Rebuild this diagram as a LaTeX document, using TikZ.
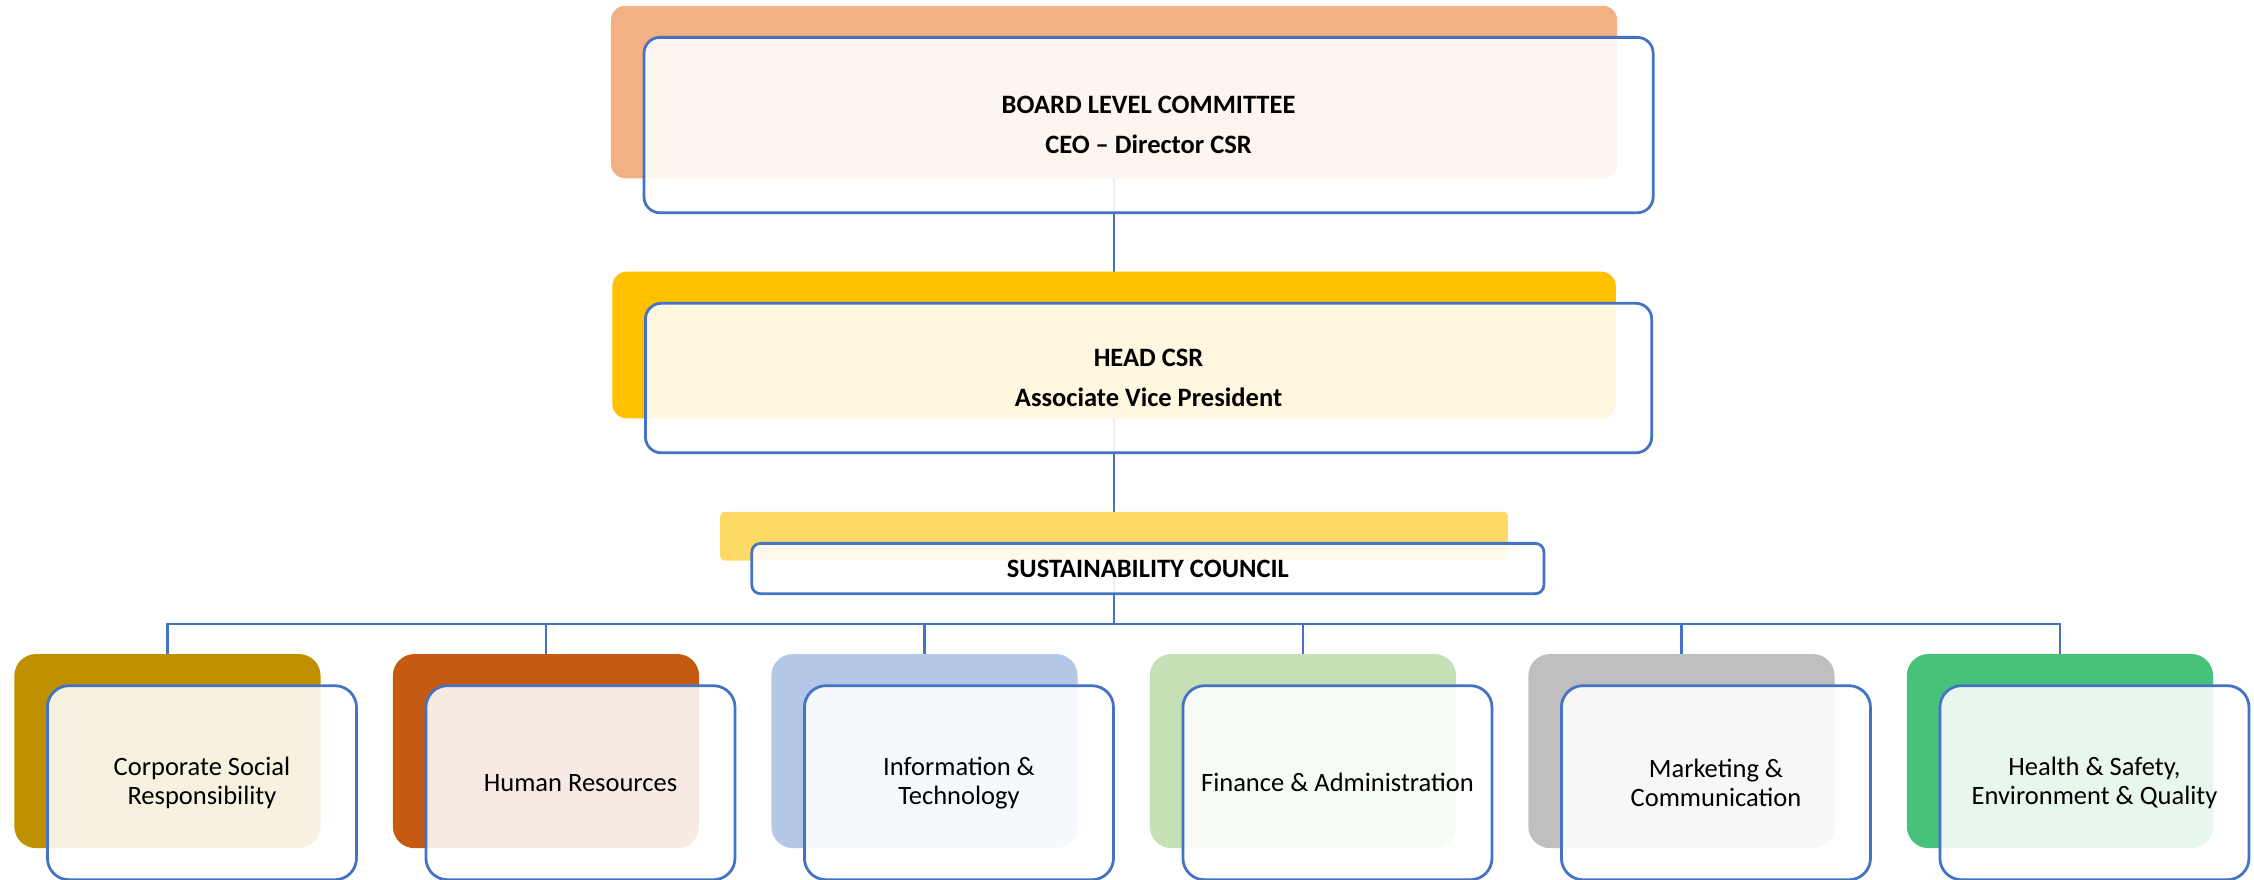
\documentclass[tikz,border=0pt]{standalone}
\usepackage{fontspec}
\setmainfont{Carlito}
\usetikzlibrary{calc}
\pgfdeclarelayer{bgfill}
\pgfdeclarelayer{bg}
\pgfsetlayers{bgfill,bg,main}
\definecolor{lineblue}{HTML}{4472C4}
\definecolor{cOrange}{HTML}{F4B183}
\definecolor{cGold}{HTML}{FFC000}
\definecolor{cLYellow}{HTML}{FFD966}
\definecolor{cOlive}{HTML}{BF9000}
\definecolor{cRust}{HTML}{C55A11}
\definecolor{cLBlue}{HTML}{B4C7E7}
\definecolor{cLGreen}{HTML}{C5E0B4}
\definecolor{cGrey}{HTML}{BFBFBF}
\definecolor{cGreen}{HTML}{47C27B}
\tikzset{
  sz/.style 2 args={minimum width=#1*0.02cm, minimum height=#2*0.02cm, inner sep=0pt},
  backbox/.style={fill=#1, draw=none, rounded corners=0.2cm},
  frontbox/.style={draw=lineblue, line width=1.1pt, fill=white, fill opacity=0.88, text opacity=1, rounded corners=0.22cm, align=center},
  frontsmall/.style={frontbox, rounded corners=0.3cm},
  conn/.style={draw=lineblue, line width=0.9pt},
  headtxt/.style={font=\fontsize{10.5}{11}\selectfont\bfseries},
  unittxt/.style={font=\fontsize{10.5}{11.4}\selectfont},
}
\begin{document}
\begin{tikzpicture}[x=0.02cm, y=-0.02cm]
\clip (0,0) rectangle (1568,612);
\begin{pgfonlayer}{bgfill}
\fill[white] (0,0) rectangle (1568,612);
\end{pgfonlayer}
% top
\node[backbox=cOrange, sz={700}{120}] (b1) at (775,64) {};
\node[frontbox, headtxt, sz={702}{122}] (f1) at (799,87) {BOARD LEVEL COMMITTEE\\[4.9pt]CEO -- Director CSR};
\node[backbox=cGold, sz={698}{102}] (b2) at (775,240) {};
\node[frontbox, headtxt, sz={700}{104}] (f2) at (799,263) {HEAD CSR\\[4.9pt]Associate Vice President};
\node[backbox=cLYellow, sz={548}{34}, rounded corners=0.06cm] (b3) at (775,373) {};
\node[frontbox, headtxt, sz={551}{35}, rounded corners=0.12cm] (f3) at (798.5,395.5) {SUSTAINABILITY COUNCIL};
% units
\foreach \i/\c/\t [count=\k from 0] in {
  u1/cOlive/{Corporate Social\\Responsibility},
  u2/cRust/{Human Resources},
  u3/cLBlue/{Information \&\\Technology},
  u4/cLGreen/{Finance \& Administration},
  u5/cGrey/{Marketing \&\\Communication},
  u6/cGreen/{Health \& Safety,\\Environment \& Quality}}{
  \node[backbox=\c, sz={213}{135}, rounded corners=0.3cm] (\i b) at ({116.5+263.3*\k},522.5) {};
  \node[frontsmall, unittxt, sz={215}{135}] (\i f) at ({140.5+263.3*\k},544.5) {\t};
}
\coordinate (bus) at (775,434);
\begin{pgfonlayer}{bg}
\draw[conn] (b1.center) -- (b2.center);
\draw[conn] (b2.center) -- (b3.center);
\draw[conn] (b3.center) -- (bus);
\foreach \i in {u1,u2,u3,u4,u5,u6}{
  \draw[conn] (\i b.north) |- (bus);
}
\end{pgfonlayer}
\end{tikzpicture}
\end{document}
